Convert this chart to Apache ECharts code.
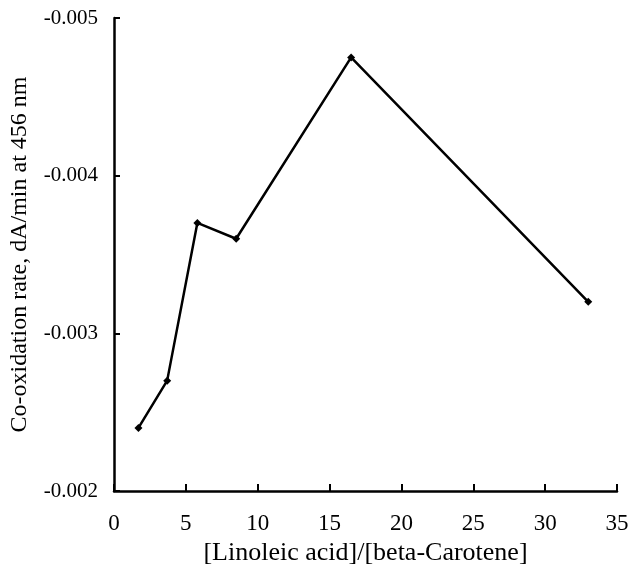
<!DOCTYPE html>
<html>
<head>
<meta charset="utf-8">
<script src="https://cdn.jsdelivr.net/npm/echarts@6/dist/echarts.min.js"></script>
<style>
  html, body { margin: 0; padding: 0; background: #fff; }
  #chart { width: 630px; height: 568px; }
</style>
</head>
<body>
<div id="chart"></div>
<script>
// ratio of linoleic acid to beta-carotene
const ratios = [1.7, 3.7, 5.8, 8.5, 16.5, 33];
// co-oxidation rate, dA/min at 456 nm
const rates = [-0.0024, -0.0027, -0.0037, -0.0036, -0.00475, -0.0032];

const serif = '"Liberation Serif", "DejaVu Serif", serif';

const myChart = echarts.init(document.getElementById('chart'));
const option = {
    backgroundColor: '#fff',
    animation: false,
    grid: {
        left: 114,
        right: 13,
        top: 18,
        bottom: 77,
        outerBoundsMode: 'none'
    },
    xAxis: {
        type: 'value',
        min: 0,
        max: 35,
        interval: 5,
        name: '[Linoleic acid]/[beta-Carotene]',
        nameLocation: 'middle',
        nameGap: 49,
        nameTextStyle: { fontFamily: serif, fontSize: 26, color: '#000' },
        splitLine: { show: false },
        axisLine: { lineStyle: { color: '#000', width: 2.5 } },
        axisTick: { inside: true, length: 7, lineStyle: { color: '#000', width: 2 } },
        axisLabel: { fontFamily: serif, fontSize: 23, color: '#000', margin: 21 }
    },
    yAxis: {
        type: 'value',
        inverse: true,
        min: -0.005,
        max: -0.002,
        interval: 0.001,
        name: 'Co-oxidation rate, dA/min at 456 nm',
        nameLocation: 'middle',
        nameGap: 82,
        nameTextStyle: { fontFamily: serif, fontSize: 24, color: '#000' },
        splitLine: { show: false },
        axisLine: { lineStyle: { color: '#000', width: 2.5 } },
        axisTick: { inside: true, length: 6, lineStyle: { color: '#000', width: 2 } },
        axisLabel: {
            fontFamily: serif,
            fontSize: 21,
            color: '#000',
            margin: 16,
            formatter: function (v) {
                return v.toFixed(3);
            }
        }
    },
    series: [{
        type: 'line',
        data: ratios.map((x, i) => [x, rates[i]]),
        symbol: 'diamond',
        symbolSize: 8,
        itemStyle: { color: '#000' },
        lineStyle: { color: '#000', width: 2.5 }
    }]
};
myChart.setOption(option);
</script>
</body>
</html>
